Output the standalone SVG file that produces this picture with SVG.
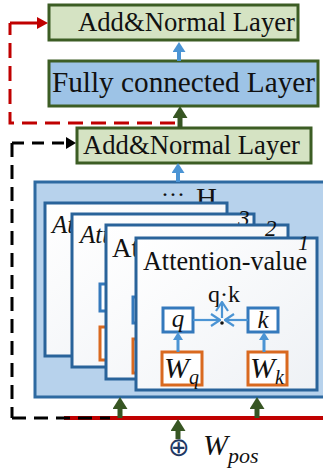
<svg xmlns="http://www.w3.org/2000/svg" width="323" height="473" viewBox="0 0 323 473">
<defs>
<style>
.t{font-family:"Liberation Serif","Times New Roman",serif;fill:#111}
.i{font-style:italic}
.add{fill:#d5e3c3;stroke:#3c5d24;stroke-width:3}
.fc{fill:#9dc3e6;stroke:#3c5d24;stroke-width:3}
.big{fill:#b7d2ec;stroke:#2e6aa1;stroke-width:3}
.card{fill:url(#cg);stroke:#29639a;stroke-width:3}
.bb{fill:#fff;stroke:#3479bc;stroke-width:3}
.ob{fill:#fff;stroke:#d9691f;stroke-width:3}
.ga{stroke:#375623;stroke-width:5;fill:none}
.ba{stroke:#4b94d4;stroke-width:4;fill:none}
.bs{stroke:#4b94d4;stroke-width:3;fill:none}
.bc{stroke:#4b94d4;stroke-width:2.2;fill:none}
</style>
<linearGradient id="cg" x1="0" y1="0" x2="1" y2="1">
<stop offset="0" stop-color="#ffffff"/>
<stop offset="1" stop-color="#eef1f5"/>
</linearGradient>
<marker id="mg" markerUnits="userSpaceOnUse" viewBox="0 0 12 15" markerWidth="12" markerHeight="15" refX="0" refY="7.5" orient="auto"><path d="M0,0 L12,7.5 L0,15 z" fill="#375623"/></marker>
<marker id="mb" markerUnits="userSpaceOnUse" viewBox="0 0 10 13" markerWidth="10" markerHeight="13" refX="0" refY="6.5" orient="auto"><path d="M0,0 L10,6.5 L0,13 z" fill="#4b94d4"/></marker>
<marker id="ms" markerUnits="userSpaceOnUse" viewBox="0 0 8 10" markerWidth="8" markerHeight="10" refX="0" refY="5" orient="auto"><path d="M0,0 L8,5 L0,10 z" fill="#4b94d4"/></marker>
<marker id="mc" markerUnits="userSpaceOnUse" viewBox="0 0 11 14" markerWidth="11" markerHeight="14" refX="10" refY="7" orient="auto"><path d="M1,1 L10,7 L1,13" fill="none" stroke="#4b94d4" stroke-width="2.2"/></marker>
<marker id="mr" markerUnits="userSpaceOnUse" viewBox="0 0 11 12" markerWidth="11" markerHeight="12" refX="0" refY="6" orient="auto"><path d="M0,0 L11,6 L0,12 z" fill="#c00000"/></marker>
<marker id="mk" markerUnits="userSpaceOnUse" viewBox="0 0 10 12" markerWidth="10" markerHeight="12" refX="0" refY="6" orient="auto"><path d="M0,0 L10,6 L0,12 z" fill="#000"/></marker>
</defs>

<g id="add-norm-top">
<rect class="add" x="49" y="5" width="249" height="35"/>
<text class="t" x="78" y="31" font-size="28" textLength="217" lengthAdjust="spacingAndGlyphs">Add&amp;Normal Layer</text>
</g>

<g id="fully-connected">
<rect class="fc" x="49" y="61" width="269" height="45"/>
<text class="t" x="52" y="92" font-size="29" textLength="263" lengthAdjust="spacingAndGlyphs">Fully connected Layer</text>
</g>

<g id="add-norm-bottom">
<rect class="add" x="77" y="128" width="234" height="35"/>
<text class="t" x="83" y="154" font-size="28" textLength="217" lengthAdjust="spacingAndGlyphs">Add&amp;Normal Layer</text>
</g>

<g id="multi-head">
<rect class="big" x="35" y="182" width="295" height="215"/>
<text class="t" x="162" y="196" font-size="24" letter-spacing="2">...</text>
<text class="t" x="196" y="208" font-size="29">H</text>
</g>

<g id="head-4">
<rect class="card" x="45" y="203" width="182" height="153"/>
<text class="t i" x="52" y="233" font-size="25">At</text>
</g>

<g id="head-3">
<rect class="card" x="72" y="214" width="182" height="153"/>
<text class="t i" x="80" y="243" font-size="25">Att</text>
<text class="t i" x="238" y="226" font-size="23">3</text>
<rect class="bb" x="100" y="284" width="30" height="27"/>
<rect class="ob" x="100" y="327" width="40" height="33"/>
</g>

<g id="head-2">
<rect class="card" x="106" y="225" width="182" height="154"/>
<text class="t" x="112" y="257" font-size="27">At</text>
<text class="t i" x="265" y="236" font-size="23">2</text>
<rect class="bb" x="133" y="297" width="30" height="26"/>
<rect class="ob" x="133" y="339" width="40" height="34"/>
</g>

<g id="head-1">
<rect class="card" x="136" y="238" width="181" height="152"/>
<text class="t i" x="298" y="250" font-size="22">1</text>
<text class="t" x="143" y="270" font-size="28" textLength="164" lengthAdjust="spacingAndGlyphs">Attention-value</text>
<text class="t" x="208" y="302" font-size="24" textLength="32" lengthAdjust="spacingAndGlyphs">q·k</text>
<circle cx="222" cy="323" r="1.8" fill="#111"/>
</g>

<g id="q">
<rect class="bb" x="163" y="308" width="30" height="24"/>
<text class="t i" x="178" y="327" font-size="25" text-anchor="middle">q</text>
</g>
<g id="k">
<rect class="bb" x="248" y="308" width="30" height="24"/>
<text class="t i" x="263" y="328" font-size="25" text-anchor="middle">k</text>
</g>
<g id="Wq">
<rect class="ob" x="162" y="352" width="40" height="33"/>
<text class="t i" x="164" y="378" font-size="30">W<tspan font-size="20" dy="6">q</tspan></text>
</g>
<g id="Wk">
<rect class="ob" x="248" y="352" width="39" height="33"/>
<text class="t i" x="250" y="378" font-size="30">W<tspan font-size="20" dy="6">k</tspan></text>
</g>

<g id="w-pos">
<text x="179" y="456" font-family="DejaVu Sans, sans-serif" font-size="26" fill="#1f3864" text-anchor="middle">⊕</text>
<text class="t i" x="203" y="455" font-size="30">W<tspan font-size="22" dy="8">pos</tspan></text>
</g>

<g id="connectors">
<path class="ba" d="M179,61 V52" marker-end="url(#mb)"/>
<path class="ga" d="M180,128 V118" marker-end="url(#mg)"/>
<path class="ba" d="M178,182 V173" marker-end="url(#mb)"/>
<path d="M10,23 H37" stroke="#c00000" stroke-width="3" fill="none" marker-end="url(#mr)"/>
<path d="M175,123 H10 V23" stroke="#c00000" stroke-width="3" fill="none" stroke-dasharray="15 8"/>
<path d="M12,143 H66" stroke="#000" stroke-width="3" fill="none" stroke-dasharray="12 8" marker-end="url(#mk)"/>
<path d="M12,143 V418" stroke="#000" stroke-width="3" fill="none" stroke-dasharray="14 8"/>
<path d="M64,418 H323" stroke="#c00000" stroke-width="4" fill="none"/>
<path d="M12,418 H110" stroke="#000" stroke-width="3" fill="none" stroke-dasharray="14 8"/>
<path class="ga" d="M120,418 V409" marker-end="url(#mg)"/>
<path class="ga" d="M257,418 V409" marker-end="url(#mg)"/>
<path class="ga" d="M178,439 V431" marker-end="url(#mg)"/>
<path class="bs" d="M178,352 V340" marker-end="url(#ms)"/>
<path class="bs" d="M264,352 V340" marker-end="url(#ms)"/>
<path class="bc" d="M193,320 H220" marker-end="url(#mc)"/>
<path class="bc" d="M248,320 H225" marker-end="url(#mc)"/>
<path class="bc" d="M222,318 V302" marker-end="url(#mc)"/>
</g>
</svg>
